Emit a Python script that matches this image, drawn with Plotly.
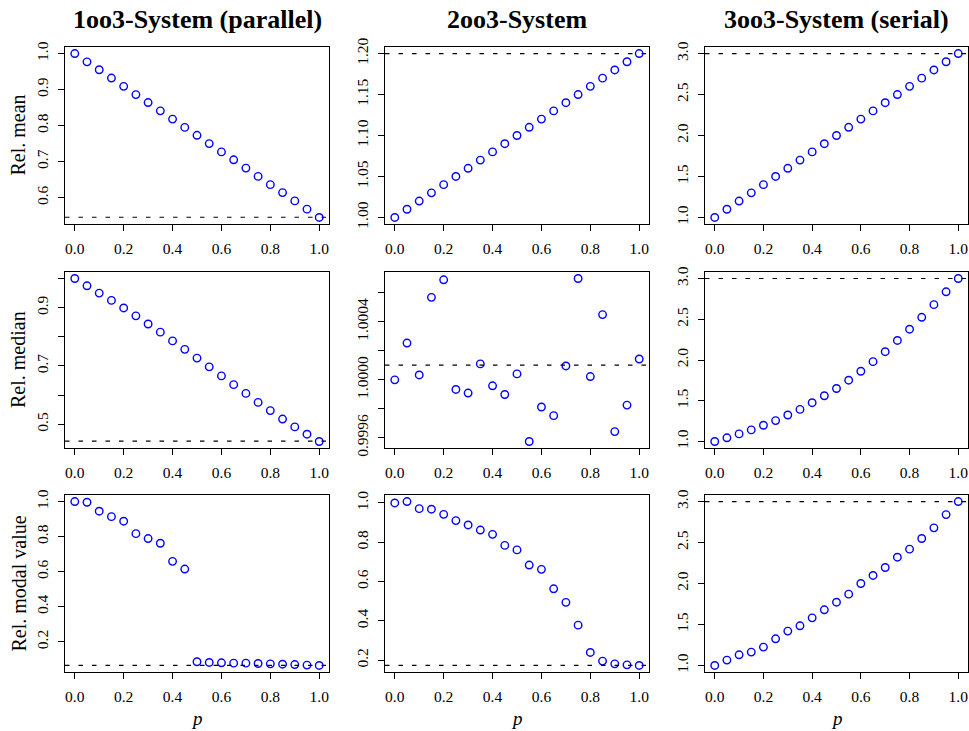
import plotly.graph_objects as go

W, H = 969, 731
p = [round(i * 0.05, 2) for i in range(21)]

titles = ["1oo3-System (parallel)", "2oo3-System", "3oo3-System (serial)"]
row_labels = ["Rel. mean", "Rel. median", "Rel. modal value"]

# Row 1: relative mean
mean_1oo3 = [1.000, 0.977, 0.955, 0.932, 0.909, 0.886, 0.864, 0.841, 0.818, 0.795, 0.773,
             0.750, 0.727, 0.705, 0.682, 0.659, 0.636, 0.614, 0.591, 0.568, 0.545]
mean_2oo3 = [1.00, 1.01, 1.02, 1.03, 1.04, 1.05, 1.06, 1.07, 1.08, 1.09, 1.10,
             1.11, 1.12, 1.13, 1.14, 1.15, 1.16, 1.17, 1.18, 1.19, 1.20]
mean_3oo3 = [1.0, 1.1, 1.2, 1.3, 1.4, 1.5, 1.6, 1.7, 1.8, 1.9, 2.0,
             2.1, 2.2, 2.3, 2.4, 2.5, 2.6, 2.7, 2.8, 2.9, 3.0]
# Row 2: relative median
median_1oo3 = [1.000, 0.975, 0.950, 0.925, 0.899, 0.872, 0.844, 0.816, 0.786, 0.757, 0.727,
               0.697, 0.666, 0.636, 0.606, 0.575, 0.547, 0.518, 0.491, 0.466, 0.441]
median_2oo3 = [1.000000, 1.000254, 1.000034, 1.000569, 1.000690, 0.999934, 0.999909, 1.000110,
               0.999959, 0.999899, 1.000041, 0.999575, 0.999813, 0.999753, 1.000096, 1.000699,
               1.000023, 1.000450, 0.999643, 0.999826, 1.000144]
median_3oo3 = [1.000, 1.045, 1.093, 1.142, 1.199, 1.256, 1.325, 1.394, 1.476, 1.561, 1.650,
               1.752, 1.862, 1.980, 2.102, 2.240, 2.378, 2.524, 2.679, 2.837, 3.000]
# Row 3: relative modal value
mode_1oo3 = [1.000, 0.996, 0.945, 0.914, 0.888, 0.817, 0.789, 0.762, 0.659, 0.615, 0.086,
             0.082, 0.080, 0.078, 0.078, 0.076, 0.074, 0.072, 0.070, 0.067, 0.065]
mode_2oo3 = [1.000, 1.007, 0.971, 0.968, 0.942, 0.910, 0.888, 0.862, 0.840, 0.784, 0.761,
             0.684, 0.662, 0.563, 0.494, 0.378, 0.239, 0.195, 0.181, 0.176, 0.173]
mode_3oo3 = [1.000, 1.065, 1.130, 1.163, 1.224, 1.325, 1.419, 1.484, 1.581, 1.679, 1.772,
             1.870, 2.000, 2.098, 2.195, 2.321, 2.419, 2.549, 2.679, 2.841, 3.000]

ref_levels = [[0.5455, 1.20, 3.0], [0.442, 1.000101, 3.0], [0.065, 0.173, 3.0]]

series = [[mean_1oo3, mean_2oo3, mean_3oo3],
          [median_1oo3, median_2oo3, median_3oo3],
          [mode_1oo3, mode_2oo3, mode_3oo3]]

x_tickvals = [0.0, 0.2, 0.4, 0.6, 0.8, 1.0]
x_ticktext = ["0.0", "0.2", "0.4", "0.6", "0.8", "1.0"]

y_tickvals = [
    [[0.6, 0.7, 0.8, 0.9, 1.0], [1.00, 1.05, 1.10, 1.15, 1.20], [1.0, 1.5, 2.0, 2.5, 3.0]],
    [[0.5, 0.6, 0.7, 0.8, 0.9, 1.0], [0.9996, 0.9998, 1.0, 1.0002, 1.0004, 1.0006], [1.0, 1.5, 2.0, 2.5, 3.0]],
    [[0.2, 0.4, 0.6, 0.8, 1.0], [0.2, 0.4, 0.6, 0.8, 1.0], [1.0, 1.5, 2.0, 2.5, 3.0]],
]
y_ticktext = [
    [["0.6", "0.7", "0.8", "0.9", "1.0"], ["1.00", "1.05", "1.10", "1.15", "1.20"], ["1.0", "1.5", "2.0", "2.5", "3.0"]],
    [["0.5", "", "0.7", "", "0.9", ""], ["0.9996", "", "1.0000", "", "1.0004", ""], ["1.0", "1.5", "2.0", "2.5", "3.0"]],
    [["0.2", "0.4", "0.6", "0.8", "1.0"], ["0.2", "0.4", "0.6", "0.8", "1.0"], ["1.0", "1.5", "2.0", "2.5", "3.0"]],
]

# panel pixel boxes
col_px = [(65, 329), (385, 649), (705, 968)]
row_px = [(47, 224), (272, 448), (495, 672)]


def fx(px):
    return px / W


def fy(py):
    return 1 - py / H


FONT = "Liberation Serif"
fig = go.Figure()
layout = dict(template="none", width=W, height=H, autosize=False,
              margin=dict(l=0, r=0, t=0, b=0, pad=0),
              paper_bgcolor="white", plot_bgcolor="white", showlegend=False,
              font=dict(family=FONT, color="black", size=15))
shapes = []
annotations = []


def r_range(vals, extra=None):
    v = list(vals) + ([extra] if extra is not None else [])
    lo, hi = min(v), max(v)
    d = (hi - lo) * 0.04
    return [lo - d, hi + d]


k = 0
for r in range(3):
    for c in range(3):
        k += 1
        xa = "xaxis" if k == 1 else f"xaxis{k}"
        ya = "yaxis" if k == 1 else f"yaxis{k}"
        xr = "x" if k == 1 else f"x{k}"
        yr = "y" if k == 1 else f"y{k}"
        x0, x1 = col_px[c]
        y0, y1 = row_px[r]
        vals = series[r][c]
        fig.add_trace(go.Scatter(x=p, y=vals, mode="markers", xaxis=xr, yaxis=yr,
                                 marker=dict(symbol="circle-open", size=7.5, color="#0000FF",
                                             line=dict(width=1.4, color="#0000FF"))))
        common = dict(showline=True, mirror=True, linecolor="black", linewidth=1.3,
                      ticks="outside", ticklen=6, tickwidth=1, tickcolor="black",
                      showgrid=False, zeroline=False, fixedrange=True, automargin=False,
                      tickfont=dict(family=FONT, size=15.5, color="black"))
        layout[xa] = dict(domain=[fx(x0), fx(x1)], anchor=yr, range=[-0.04, 1.04],
                          tickmode="array", tickvals=x_tickvals, ticktext=x_ticktext,
                          ticklabelstandoff=4, **common)
        layout[ya] = dict(domain=[fy(y1), fy(y0)], anchor=xr,
                          range=r_range(vals, ref_levels[r][c]),
                          tickmode="array", tickvals=y_tickvals[r][c], ticktext=y_ticktext[r][c],
                          tickangle=-90, ticklabelstandoff=4, **common)
        shapes.append(dict(type="line", xref=f"{xr} domain", yref=yr, x0=0, x1=1,
                           y0=ref_levels[r][c], y1=ref_levels[r][c],
                           line=dict(color="black", width=1.2, dash="4.5px,9px")))

for c in range(3):
    cx = fx((col_px[c][0] + col_px[c][1]) / 2)
    annotations.append(dict(text=f"<b>{titles[c]}</b>", x=cx, y=fy(20), xref="paper", yref="paper",
                            showarrow=False, xanchor="center", yanchor="middle",
                            font=dict(family=FONT, size=26, color="black")))
    annotations.append(dict(text="<i>p</i>", x=cx, y=fy(718), xref="paper", yref="paper",
                            showarrow=False, xanchor="center", yanchor="middle",
                            font=dict(family=FONT, size=19, color="black")))
for r in range(3):
    cy = fy((row_px[r][0] + row_px[r][1]) / 2)
    annotations.append(dict(text=row_labels[r], x=fx(18), y=cy, xref="paper", yref="paper",
                            showarrow=False, xanchor="center", yanchor="middle", textangle=-90,
                            font=dict(family=FONT, size=20, color="black")))

layout["shapes"] = shapes
layout["annotations"] = annotations
fig.update_layout(**layout)
fig.write_html("out.html", config={"displayModeBar": False},
               post_script="document.body.style.margin='0';document.body.style.overflow='hidden';"
                           "document.documentElement.style.overflow='hidden';")
